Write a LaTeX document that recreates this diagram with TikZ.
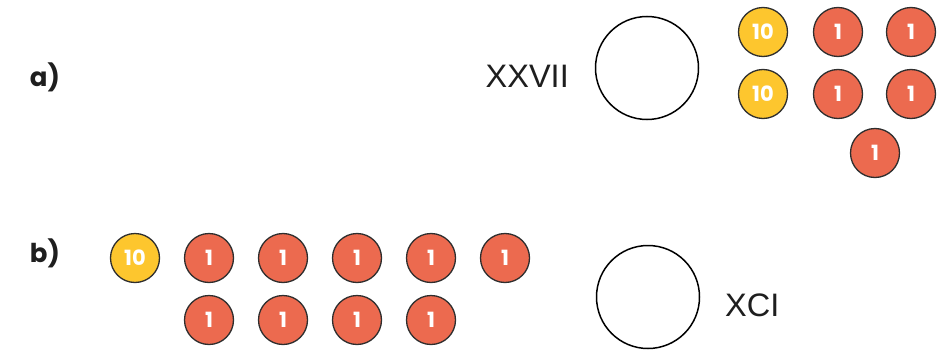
\documentclass[tikz,border=0pt]{standalone}
\usepackage{fontspec}
\setmainfont{Liberation Sans}
\newfontfamily\lblfont{Poppins}
\definecolor{tenyel}{HTML}{FDC62E}
\definecolor{onered}{HTML}{EC6A4F}
\definecolor{rimcol}{HTML}{2E2E2E}
\definecolor{inkcol}{HTML}{1E1E1E}
\begin{document}
\begin{tikzpicture}[x=1pt,y=-1pt,
  counter/.style={circle,draw=rimcol,line width=1.3pt,minimum size=49pt,inner sep=0pt,text=white,font=\lblfont\bfseries\fontsize{21}{21}\selectfont},
  ten/.style={counter,fill=tenyel},
  one/.style={counter,fill=onered},
  bigc/.style={circle,draw=black,line width=1.5pt,minimum size=103pt,inner sep=0pt},
  roman/.style={font=\fontsize{32.5}{32.5}\selectfont,inner sep=0pt,text=inkcol},
  partlbl/.style={font=\lblfont\bfseries\fontsize{26}{26}\selectfont,inner sep=0pt,text=inkcol}]
\useasboundingbox (0,0) rectangle (939,353);
% part a
\node[partlbl] (la) at (45,77) {a)};
\node[roman,anchor=east] (ra) at (569,76) {XXVII};
\node[bigc] (ca) at (647,68) {};
\node[ten] (a1) at (763,32) {10};
\node[one] (a2) at (838,32) {1};
\node[one] (a3) at (911,32) {1};
\node[ten] (a4) at (763,94) {10};
\node[one] (a5) at (838,94) {1};
\node[one] (a6) at (911,94) {1};
\node[one] (a7) at (875,153) {1};
% part b
\node[partlbl] (lb) at (45,253) {b)};
\node[ten] (b0) at (135,258) {10};
\node[one] (b1) at (209,258) {1};
\node[one] (b2) at (283,258) {1};
\node[one] (b3) at (357,258) {1};
\node[one] (b4) at (431,258) {1};
\node[one] (b5) at (505,258) {1};
\node[one] (b6) at (209,320) {1};
\node[one] (b7) at (283,320) {1};
\node[one] (b8) at (357,320) {1};
\node[one] (b9) at (431,320) {1};
\node[bigc] (cb) at (648,297) {};
\node[roman,anchor=west] (rb) at (725,305) {XCI};
\end{tikzpicture}
\end{document}
